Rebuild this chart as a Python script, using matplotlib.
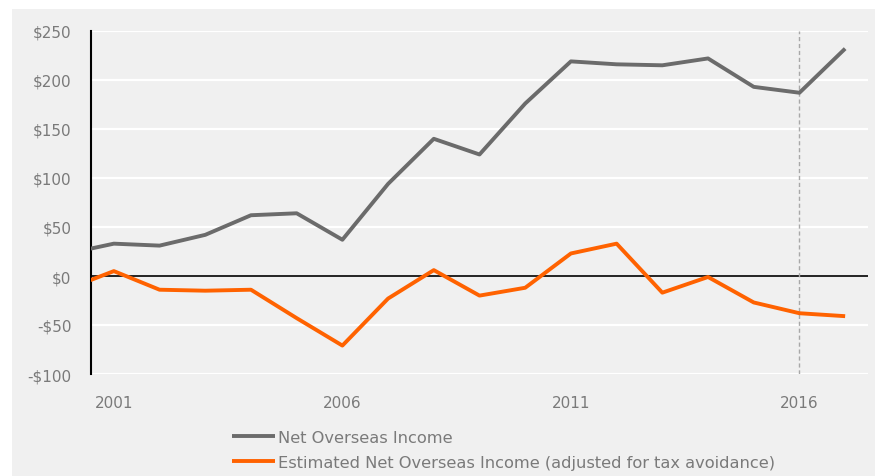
import matplotlib.pyplot as plt
from matplotlib.patches import Rectangle
from matplotlib.ticker import FuncFormatter

years = [2000, 2001, 2002, 2003, 2004, 2005, 2006, 2007, 2008,
         2009, 2010, 2011, 2012, 2013, 2014, 2015, 2016, 2017]
net_income = [23, 33, 31, 42, 62, 64, 37, 94, 140,
              124, 176, 219, 216, 215, 222, 193, 187, 232]
net_income_adj = [-13, 5, -14, -15, -14, -43, -71, -23, 6,
                  -20, -12, 23, 33, -17, -1, -27, -38, -41]
xticks = [2001, 2006, 2011, 2016]
yticks = [-100, -50, 0, 50, 100, 150, 200, 250]

W, H = 875, 477
txt = '#7a7a7a'
plt.rcParams['font.family'] = ['DejaVu Sans']

fig = plt.figure(figsize=(W / 100, H / 100), dpi=100)
fig.patch.set_facecolor('white')
fig.patches.append(Rectangle((12 / W, 0), 1 - 12 / W, 1 - 10 / H,
                             transform=fig.transFigure, facecolor='#f0f0f0',
                             edgecolor='none', zorder=-1))

ax = fig.add_axes([91 / W, 1 - 375 / H, (868 - 91) / W, (375 - 32) / H])
ax.set_facecolor('none')

for y in yticks:
    if y != 0:
        ax.axhline(y, color='white', lw=1.6, zorder=1)
ax.axhline(0, color='black', lw=1.2, zorder=2)
ax.axvline(2016, color='#a8a8a8', lw=1, ls=(0, (3, 2)), zorder=2)

ax.plot(years, net_income, color='#6b6b6b', lw=2.8, zorder=3,
        label='Net Overseas Income', solid_capstyle='butt')
ax.plot(years, net_income_adj, color='#ff6200', lw=2.8, zorder=3,
        label='Estimated Net Overseas Income (adjusted for tax avoidance)',
        solid_capstyle='butt')

ax.set_xlim(2000.5, 2017.5)
ax.set_ylim(-100, 250)
ax.set_xticks(xticks)
ax.set_xticklabels([str(x) for x in xticks])
ax.set_yticks(yticks)
ax.yaxis.set_major_formatter(FuncFormatter(
    lambda v, p: ('-$%d' % -v) if v < 0 else '$%d' % v))
ax.tick_params(axis='both', length=0, labelsize=11, colors=txt)
ax.tick_params(axis='y', pad=14)
ax.tick_params(axis='x', pad=15)

for s in ['top', 'right', 'bottom']:
    ax.spines[s].set_visible(False)
ax.spines['left'].set_color('black')
ax.spines['left'].set_linewidth(1.5)

leg = fig.legend(loc='upper left', bbox_to_anchor=(232 / W, 1 - 431 / H),
                 frameon=False, fontsize=11.7, handlelength=2.65,
                 handletextpad=0.2, labelspacing=0.62, borderaxespad=0,
                 borderpad=0)
for t in leg.get_texts():
    t.set_color(txt)

fig.savefig('out.png', dpi=100, facecolor=fig.get_facecolor())
